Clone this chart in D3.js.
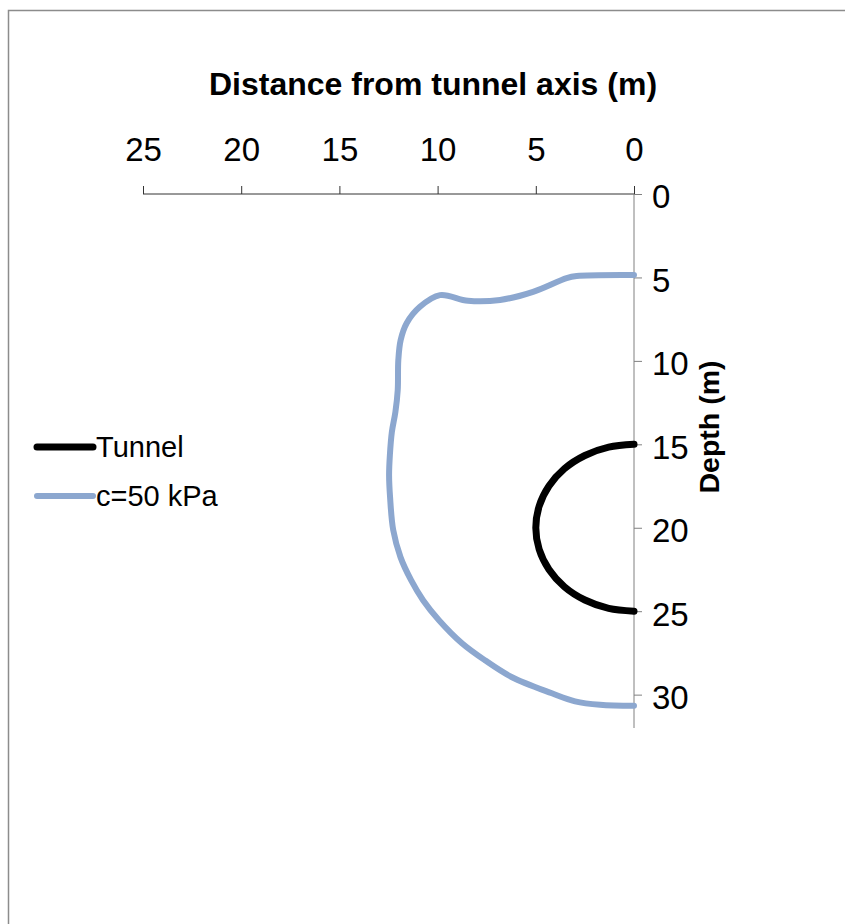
<!DOCTYPE html>
<html>
<head>
<meta charset="utf-8">
<script src="https://cdn.jsdelivr.net/npm/d3@7"></script>
<style>
  html, body { margin: 0; padding: 0; background: #fff; }
  svg { display: block; font-family: "Liberation Sans", Arial, sans-serif; }
</style>
</head>
<body>
<svg id="chart" width="845" height="924"></svg>
<script>
// Axis ticks
const xTicks = [25, 20, 15, 10, 5, 0];
const yTicks = [0, 5, 10, 15, 20, 25, 30];

// Tunnel outline (radius 5 m, centre at 20 m depth), half section
const tunnelX = [0, 1.29, 2.5, 3.54, 4.33, 4.83, 5, 4.83, 4.33, 3.54, 2.5, 1.29, 0];
const tunnelY = [15, 15.17, 15.67, 16.46, 17.5, 18.71, 20, 21.29, 22.5, 23.54, 24.33, 24.83, 25];

// Plastic zone boundary for c = 50 kPa
const zoneX = [0, 2.92, 3.43, 5.14, 6.82, 8.45, 9.88, 10.9, 11.57, 11.88, 12.0, 12.03, 12.15, 12.33, 12.43, 12.47, 12.42, 12.26, 11.89, 11.35, 10.74, 9.93, 8.76, 7.59, 6.21, 4.18, 3.0, 1.73, 0];
const zoneY = [4.86, 4.92, 5.04, 5.86, 6.35, 6.4, 6.06, 6.76, 7.73, 8.75, 9.95, 11.75, 13.07, 14.27, 15.65, 16.85, 18.17, 20.14, 21.76, 23.14, 24.34, 25.54, 26.92, 27.94, 28.96, 29.92, 30.4, 30.61, 30.67];

const seriesNames = ["Tunnel", "c=50 kPa"];
const seriesColors = ["#000000", "#8ca7cf"];

const svg = d3.select("#chart");

// Outer chart frame
svg.append("rect")
  .attr("x", 8.5).attr("y", 10.5)
  .attr("width", 900).attr("height", 1000)
  .attr("fill", "none").attr("stroke", "#8c8c8c").attr("stroke-width", 1.5);

const x = d3.scaleLinear().domain([0, 25]).range([634, 143]);
const y = d3.scaleLinear().domain([0, 32]).range([194, 728]);

// Top horizontal axis (reversed distance)
const xAxis = svg.append("g")
  .attr("transform", `translate(0,${y(0)})`)
  .call(d3.axisTop(x).tickValues(xTicks).tickSize(8).tickPadding(25).tickFormat(d3.format("d")));
xAxis.select(".domain").attr("stroke", "#333").attr("d", `M${x(25)},0H${x(0)}`);
xAxis.selectAll(".tick line").attr("stroke", "#333");
xAxis.selectAll(".tick text").attr("font-size", 33).attr("fill", "#000")
  .attr("font-family", "Liberation Sans, Arial, sans-serif");

// Right-hand depth axis
const yAxis = svg.append("g")
  .attr("transform", `translate(${x(0)},0)`)
  .call(d3.axisRight(y).tickValues(yTicks).tickSize(8).tickPadding(10).tickFormat(d3.format("d")));
yAxis.select(".domain").attr("stroke", "#808080").attr("d", `M0,${y(0)}V${y(32)}`);
yAxis.selectAll(".tick line").attr("stroke", "#808080");
yAxis.selectAll(".tick text").attr("font-size", 33).attr("fill", "#000")
  .attr("dy", "0.42em")
  .attr("font-family", "Liberation Sans, Arial, sans-serif");

// Axis titles
svg.append("text")
  .attr("x", 433).attr("y", 95)
  .attr("text-anchor", "middle")
  .attr("font-size", 32).attr("font-weight", "bold")
  .text("Distance from tunnel axis (m)");

svg.append("text")
  .attr("transform", "translate(719,427) rotate(-90)")
  .attr("text-anchor", "middle")
  .attr("font-size", 28.5).attr("font-weight", "bold")
  .text("Depth (m)");

// Series lines
const line = d3.line()
  .x(d => x(d[0]))
  .y(d => y(d[1]))
  .curve(d3.curveCatmullRom.alpha(0.5));

const zonePts = zoneX.map((v, i) => [v, zoneY[i]]);
const tunnelPts = tunnelX.map((v, i) => [v, tunnelY[i]]);

svg.append("path")
  .datum(zonePts)
  .attr("d", line)
  .attr("fill", "none")
  .attr("stroke", seriesColors[1])
  .attr("stroke-width", 6)
  .attr("stroke-linecap", "round")
  .attr("stroke-linejoin", "round");

svg.append("path")
  .datum(tunnelPts)
  .attr("d", line)
  .attr("fill", "none")
  .attr("stroke", seriesColors[0])
  .attr("stroke-width", 7)
  .attr("stroke-linecap", "round")
  .attr("stroke-linejoin", "round");

// Legend
const legendY = [447, 496];
const legend = svg.append("g");
seriesNames.forEach((name, i) => {
  legend.append("line")
    .attr("x1", 37).attr("x2", 93)
    .attr("y1", legendY[i]).attr("y2", legendY[i])
    .attr("stroke", seriesColors[i])
    .attr("stroke-width", i === 0 ? 7 : 6)
    .attr("stroke-linecap", "round");
  legend.append("text")
    .attr("x", 96).attr("y", legendY[i] + 10)
    .attr("font-size", 29)
    .attr("fill", "#000")
    .text(name);
});
</script>
</body>
</html>
